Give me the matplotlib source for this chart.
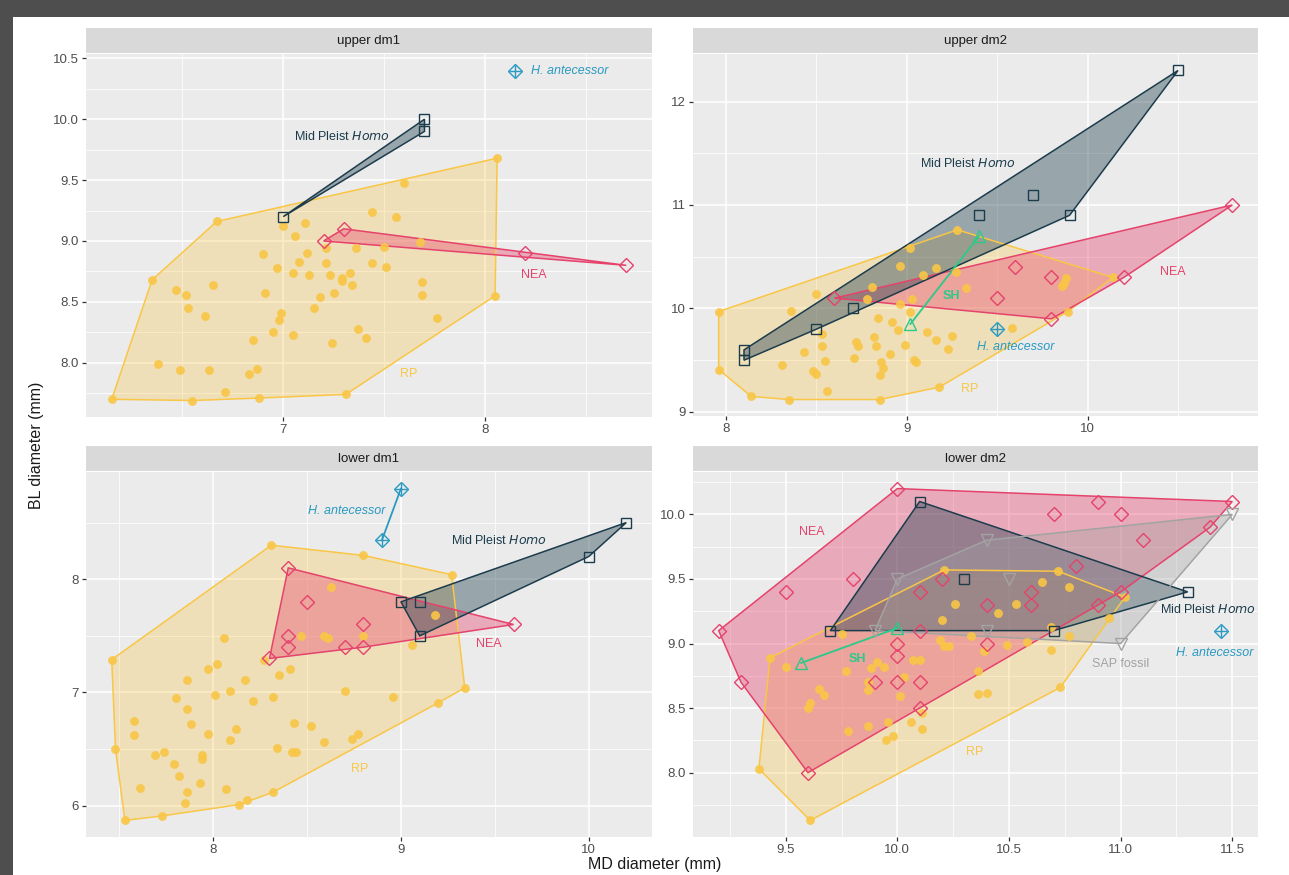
import numpy as np
import matplotlib
matplotlib.use("Agg")
import matplotlib.pyplot as plt
from matplotlib.patches import Polygon, Rectangle

FONT = ['Liberation Sans Narrow', 'Liberation Sans', 'DejaVu Sans']
plt.rcParams['font.family'] = FONT
plt.rcParams['mathtext.fontset'] = 'custom'
plt.rcParams['mathtext.rm'] = 'Liberation Sans Narrow'
plt.rcParams['mathtext.it'] = 'Liberation Sans Narrow:italic'

# ---------------------------------------------------------------------------
# data: MD / BL diameters (mm), one pair of lists per group
# ---------------------------------------------------------------------------
# upper dm1
ud1_rp_md = [6.15, 6.35, 6.67, 8.06, 8.05, 7.31, 6.88, 6.55, 7.60, 7.44, 7.56, 7.00, 7.11, 7.06,
             7.68, 7.21, 7.36, 7.50, 6.90, 7.12, 7.08, 7.21, 7.44, 7.51, 6.97, 7.05, 7.13, 7.23,
             7.29, 7.33, 7.29, 7.34, 7.69, 7.69, 6.65, 6.47, 6.52, 6.91, 7.25, 7.18, 6.53, 6.61,
             7.15, 6.99, 6.98, 6.95, 7.05, 6.85, 7.76, 7.37, 7.41, 7.24, 6.38, 6.49, 6.63, 6.83,
             6.87, 6.71]
ud1_rp_bl = [7.70, 8.68, 9.16, 9.68, 8.55, 7.74, 7.71, 7.69, 9.48, 9.24, 9.20, 9.12, 9.15, 9.04,
             8.99, 8.94, 8.94, 8.95, 8.89, 8.90, 8.83, 8.82, 8.82, 8.79, 8.78, 8.74, 8.72, 8.72,
             8.70, 8.74, 8.67, 8.64, 8.66, 8.56, 8.64, 8.60, 8.56, 8.57, 8.57, 8.54, 8.45, 8.38,
             8.45, 8.41, 8.35, 8.25, 8.23, 8.19, 8.37, 8.28, 8.20, 8.16, 7.99, 7.94, 7.94, 7.91,
             7.95, 7.76]
ud1_nea_md = [7.2, 7.3, 8.2, 8.7]
ud1_nea_bl = [9.0, 9.1, 8.9, 8.8]
ud1_mph_md = [7.7, 7.7, 7.0]
ud1_mph_bl = [10.0, 9.9, 9.2]
ud1_ha_md = [8.15]
ud1_ha_bl = [10.4]

# upper dm2
ud2_rp_md = [7.96, 7.96, 8.14, 8.35, 8.85, 9.18, 9.89, 10.14, 9.28, 8.50, 8.36, 8.31, 8.43, 8.48,
             8.50, 8.53, 8.53, 8.55, 8.56, 8.71, 8.72, 8.73, 8.81, 8.78, 8.84, 8.82, 8.83, 8.86,
             8.87, 8.85, 8.91, 8.92, 8.95, 8.96, 8.96, 9.02, 8.99, 9.02, 9.03, 9.04, 9.05, 9.09,
             9.16, 9.11, 9.16, 9.23, 9.25, 9.27, 9.33, 9.58, 9.87, 9.88, 9.86]
ud2_rp_bl = [9.97, 9.41, 9.15, 9.12, 9.12, 9.24, 9.97, 10.30, 10.76, 10.14, 9.98, 9.45, 9.58, 9.40,
             9.37, 9.75, 9.64, 9.49, 9.20, 9.52, 9.68, 9.64, 10.21, 10.09, 9.91, 9.72, 9.64, 9.48,
             9.42, 9.36, 9.56, 9.87, 9.79, 10.41, 10.04, 10.58, 9.65, 9.97, 10.09, 9.50, 9.48, 10.32,
             10.39, 9.77, 9.70, 9.61, 9.73, 10.35, 10.20, 9.81, 10.25, 10.29, 10.22]
ud2_nea_md = [10.8, 10.2, 9.6, 9.8, 9.5, 9.8, 8.6]
ud2_nea_bl = [11.0, 10.3, 10.4, 10.3, 10.1, 9.9, 10.1]
ud2_mph_md = [10.5, 9.7, 9.4, 9.9, 8.7, 8.5, 8.1, 8.1]
ud2_mph_bl = [12.3, 11.1, 10.9, 10.9, 10.0, 9.8, 9.6, 9.5]
ud2_sh_md = [9.4, 9.02]
ud2_sh_bl = [10.7, 9.85]
ud2_ha_md = [9.5]
ud2_ha_bl = [9.8]

# lower dm1
ld1_rp_md = [7.46, 8.31, 8.80, 9.27, 9.34, 9.20, 8.32, 8.14, 7.73, 7.53, 7.48, 8.63, 8.47, 8.59,
             8.61, 8.80, 9.06, 9.18, 8.06, 8.27, 7.97, 8.02, 8.35, 8.41, 8.17, 7.86, 7.80, 8.01,
             8.09, 8.21, 8.32, 8.70, 8.96, 7.86, 7.88, 7.58, 7.58, 7.97, 8.12, 8.09, 8.43, 8.52,
             8.59, 8.74, 8.77, 8.34, 8.42, 8.44, 7.69, 7.74, 7.94, 7.94, 7.79, 7.82, 7.93, 7.61,
             7.86, 8.07, 7.85, 8.18]
ld1_rp_bl = [7.29, 8.30, 8.21, 8.04, 7.04, 6.91, 6.12, 6.01, 5.91, 5.87, 6.50, 7.93, 7.50, 7.50,
             7.48, 7.50, 7.42, 7.68, 7.48, 7.29, 7.21, 7.25, 7.15, 7.21, 7.11, 7.11, 6.95, 6.98,
             7.01, 6.92, 6.96, 7.01, 6.96, 6.85, 6.72, 6.75, 6.62, 6.63, 6.68, 6.58, 6.73, 6.70,
             6.56, 6.59, 6.63, 6.51, 6.47, 6.47, 6.45, 6.47, 6.45, 6.41, 6.37, 6.26, 6.20, 6.16,
             6.12, 6.15, 6.02, 6.05]
ld1_nea_md = [8.4, 8.5, 8.4, 8.4, 8.8, 8.7, 8.8, 8.3, 9.6]
ld1_nea_bl = [8.1, 7.8, 7.5, 7.4, 7.6, 7.4, 7.4, 7.3, 7.6]
ld1_mph_md = [10.2, 10.0, 9.0, 9.1, 9.1]
ld1_mph_bl = [8.5, 8.2, 7.8, 7.8, 7.5]
ld1_ha_md = [9.0, 8.9]
ld1_ha_bl = [8.8, 8.35]

# lower dm2
ld2_rp_md = [9.38, 9.43, 10.21, 10.72, 11.02, 10.73, 9.61, 9.50, 9.77, 9.75, 9.88, 9.91, 9.94,
             9.87, 9.87, 9.65, 9.67, 9.61, 9.60, 9.78, 9.87, 9.96, 10.06, 9.95, 9.98, 10.11,
             10.11, 10.07, 10.10, 10.03, 10.01, 10.20, 10.26, 10.45, 10.53, 10.19, 10.21, 10.23,
             10.33, 10.39, 10.49, 10.58, 10.65, 10.77, 10.69, 10.77, 10.69, 10.95, 10.36, 10.36,
             10.40]
ld2_rp_bl = [8.03, 8.89, 9.57, 9.56, 9.36, 8.66, 7.63, 8.82, 8.79, 9.07, 8.81, 8.86, 8.82,
             8.70, 8.64, 8.65, 8.60, 8.54, 8.50, 8.32, 8.36, 8.39, 8.39, 8.25, 8.28, 8.34,
             8.46, 8.87, 8.87, 8.74, 8.59, 9.18, 9.31, 9.24, 9.31, 9.03, 8.98, 8.98,
             9.06, 8.94, 8.99, 9.01, 9.48, 9.44, 9.13, 9.06, 8.95, 9.20, 8.79, 8.61,
             8.62]
ld2_nea_md = [10.0, 11.5, 10.9, 10.7, 11.0, 11.1, 11.4, 10.8, 9.8, 9.5, 10.1, 10.6, 11.0, 10.4,
              10.6, 10.9, 10.2, 9.2, 10.1, 10.0, 10.4, 10.0, 9.3, 9.9, 10.0, 10.1, 10.1, 9.6]
ld2_nea_bl = [10.2, 10.1, 10.1, 10.0, 10.0, 9.8, 9.9, 9.6, 9.5, 9.4, 9.4, 9.4, 9.4, 9.3,
              9.3, 9.3, 9.5, 9.1, 9.1, 9.0, 9.0, 8.9, 8.7, 8.7, 8.7, 8.7, 8.5, 8.0]
ld2_mph_md = [10.1, 10.3, 11.3, 9.7, 10.7]
ld2_mph_bl = [10.1, 9.5, 9.4, 9.1, 9.1]
ld2_sap_md = [11.5, 10.4, 10.0, 10.5, 11.0, 9.9, 10.4]
ld2_sap_bl = [10.0, 9.8, 9.5, 9.5, 9.0, 9.1, 9.1]
ld2_sh_md = [9.57, 10.0]
ld2_sh_bl = [8.85, 9.12]
ld2_ha_md = [11.45]
ld2_ha_bl = [9.1]

# ---------------------------------------------------------------------------
# styles
# ---------------------------------------------------------------------------
STYLE = {
    'RP':  dict(color='#F9C646', marker='o', ms=6.4, filled=True, alpha=0.30),
    'NEA': dict(color='#E5426C', marker='D', ms=6.8, filled=False, alpha=0.38),
    'MPH': dict(color='#1C3C4C', marker='s', ms=7.6, filled=False, alpha=0.40),
    'SAP': dict(color='#A3A3A3', marker='v', ms=9.0, filled=False, alpha=0.35),
    'SH':  dict(color='#2BC98A', marker='^', ms=9.0, filled=False, alpha=0.30),
    'HA':  dict(color='#2A9AC2', marker='D', ms=6.8, filled=False, alpha=0.30),
}


def convex_hull(xs, ys):
    pts = sorted(set(zip(xs, ys)))
    if len(pts) < 3:
        return pts

    def cross(o, a, b):
        return (a[0] - o[0]) * (b[1] - o[1]) - (a[1] - o[1]) * (b[0] - o[0])
    lower, upper = [], []
    for p in pts:
        while len(lower) >= 2 and cross(lower[-2], lower[-1], p) <= 0:
            lower.pop()
        lower.append(p)
    for p in reversed(pts):
        while len(upper) >= 2 and cross(upper[-2], upper[-1], p) <= 0:
            upper.pop()
        upper.append(p)
    return lower[:-1] + upper[:-1]


W, H = 1289, 875
fig = plt.figure(figsize=(W / 100, H / 100), dpi=100, facecolor='#4E4E4E')
fig.patches.append(Rectangle((13 / W, 0), 1, 1 - 17 / H, transform=fig.transFigure,
                             facecolor='white', edgecolor='none', zorder=-10))


def px_axes(x0, y0, x1, y1):
    return fig.add_axes([x0 / W, 1 - y1 / H, (x1 - x0) / W, (y1 - y0) / H])


def draw_panel(box, title, groups, labels, xmaj, ymaj, xfmt, yfmt):
    x0, y0, x1, y1 = box
    strip = px_axes(x0, y0 - 26, x1, y0 - 1)
    strip.set_facecolor('#D9D9D9')
    strip.set_xticks([])
    strip.set_yticks([])
    for s in strip.spines.values():
        s.set_visible(False)
    strip.text(0.5, 0.48, title, ha='center', va='center', fontsize=9.5, color='#1A1A1A')

    ax = px_axes(x0, y0, x1, y1)
    ax.set_facecolor('#EBEBEB')
    for s in ax.spines.values():
        s.set_visible(False)

    # hulls first
    for key, xs, ys in groups:
        st = STYLE[key]
        hull = convex_hull(xs, ys)
        if len(hull) >= 3:
            ax.add_patch(Polygon(hull, closed=True, facecolor=st['color'], alpha=st['alpha'],
                                 edgecolor='none', zorder=2))
            ax.add_patch(Polygon(hull, closed=True, facecolor='none', edgecolor=st['color'],
                                 lw=1.1, zorder=3))
        elif len(hull) == 2:
            ax.plot([hull[0][0], hull[1][0]], [hull[0][1], hull[1][1]], color=st['color'],
                    lw=1.3, zorder=3)
    # then points
    for key, xs, ys in groups:
        st = STYLE[key]
        if st['filled']:
            ax.plot(xs, ys, ls='none', marker=st['marker'], ms=st['ms'], color=st['color'],
                    mec='none', alpha=0.9, zorder=4)
        else:
            ax.plot(xs, ys, ls='none', marker=st['marker'], ms=st['ms'], mfc='none',
                    mec=st['color'], mew=1.0, zorder=5)
        if key == 'HA':
            ax.plot(xs, ys, ls='none', marker='+', ms=st['ms'] * 1.35, mec=st['color'],
                    mew=1.0, zorder=5)

    for txt, x, y, key, kw in labels:
        ax.text(x, y, txt, ha='center', va='center', fontsize=9, color=STYLE[key]['color'],
                zorder=6, **kw)

    ax.set_xticks(xmaj)
    ax.set_yticks(ymaj)
    ax.set_xticks([(a + b) / 2 for a, b in zip(xmaj[:-1], xmaj[1:])] +
                  [xmaj[0] - (xmaj[1] - xmaj[0]) / 2, xmaj[-1] + (xmaj[1] - xmaj[0]) / 2],
                  minor=True)
    ax.set_yticks([(a + b) / 2 for a, b in zip(ymaj[:-1], ymaj[1:])] +
                  [ymaj[0] - (ymaj[1] - ymaj[0]) / 2, ymaj[-1] + (ymaj[1] - ymaj[0]) / 2],
                  minor=True)
    ax.set_xticklabels([xfmt.format(v) for v in xmaj])
    ax.set_yticklabels([yfmt.format(v) for v in ymaj])

    # ggplot-like 5% expansion of the data range (set after ticks, which widen limits)
    all_x = np.concatenate([g[1] for g in groups])
    all_y = np.concatenate([g[2] for g in groups])
    dx = (all_x.max() - all_x.min()) * 0.05
    dy = (all_y.max() - all_y.min()) * 0.05
    ax.set_xlim(all_x.min() - dx, all_x.max() + dx)
    ax.set_ylim(all_y.min() - dy, all_y.max() + dy)

    ax.grid(which='major', color='white', lw=1.1)
    ax.grid(which='minor', color='white', lw=0.55)
    ax.set_axisbelow(True)
    ax.tick_params(which='major', length=3, width=0.9, color='#333333', labelsize=9.5,
                   labelcolor='#4D4D4D', pad=2)
    ax.tick_params(which='minor', length=0)
    return ax


IT = dict(style='italic')
BOLD = dict(weight='bold')
MPH_LABEL = 'Mid Pleist $\\it{Homo}$'

draw_panel((86, 54, 652, 417), 'upper dm1',
           [('RP', ud1_rp_md, ud1_rp_bl), ('NEA', ud1_nea_md, ud1_nea_bl),
            ('MPH', ud1_mph_md, ud1_mph_bl), ('HA', ud1_ha_md, ud1_ha_bl)],
           [(MPH_LABEL, 7.29, 9.86, 'MPH', {}), ('NEA', 8.24, 8.72, 'NEA', {}),
            ('RP', 7.62, 7.91, 'RP', {}), ('H. antecessor', 8.42, 10.4, 'HA', IT)],
           [7, 8], [8.0, 8.5, 9.0, 9.5, 10.0, 10.5], '{:.0f}', '{:.1f}')

draw_panel((693, 54, 1258, 416), 'upper dm2',
           [('RP', ud2_rp_md, ud2_rp_bl), ('NEA', ud2_nea_md, ud2_nea_bl),
            ('MPH', ud2_mph_md, ud2_mph_bl), ('SH', ud2_sh_md, ud2_sh_bl),
            ('HA', ud2_ha_md, ud2_ha_bl)],
           [(MPH_LABEL, 9.34, 11.4, 'MPH', {}), ('NEA', 10.47, 10.35, 'NEA', {}),
            ('RP', 9.35, 9.22, 'RP', {}), ('SH', 9.245, 10.125, 'SH', BOLD),
            ('H. antecessor', 9.60, 9.63, 'HA', IT)],
           [8, 9, 10], [9, 10, 11, 12], '{:.0f}', '{:.0f}')

draw_panel((86, 472, 652, 837), 'lower dm1',
           [('RP', ld1_rp_md, ld1_rp_bl), ('NEA', ld1_nea_md, ld1_nea_bl),
            ('MPH', ld1_mph_md, ld1_mph_bl), ('HA', ld1_ha_md, ld1_ha_bl)],
           [('H. antecessor', 8.71, 8.60, 'HA', IT), (MPH_LABEL, 9.52, 8.34, 'MPH', {}),
            ('NEA', 9.47, 7.43, 'NEA', {}), ('RP', 8.78, 6.32, 'RP', {})],
           [8, 9, 10], [6, 7, 8], '{:.0f}', '{:.0f}')

draw_panel((693, 472, 1258, 837), 'lower dm2',
           [('RP', ld2_rp_md, ld2_rp_bl), ('NEA', ld2_nea_md, ld2_nea_bl),
            ('MPH', ld2_mph_md, ld2_mph_bl), ('SAP', ld2_sap_md, ld2_sap_bl),
            ('SH', ld2_sh_md, ld2_sh_bl), ('HA', ld2_ha_md, ld2_ha_bl)],
           [('NEA', 9.615, 9.86, 'NEA', {}), (MPH_LABEL, 11.39, 9.26, 'MPH', {}),
            ('SAP fossil', 11.0, 8.84, 'SAP', {}), ('SH', 9.82, 8.88, 'SH', BOLD),
            ('H. antecessor', 11.42, 8.93, 'HA', IT), ('RP', 10.345, 8.16, 'RP', {})],
           [9.5, 10.0, 10.5, 11.0, 11.5], [8.0, 8.5, 9.0, 9.5, 10.0], '{:.1f}', '{:.1f}')

fig.text(37 / W, 1 - 445 / H, 'BL diameter (mm)', rotation=90, ha='center', va='center',
         fontsize=11.5, color='#1A1A1A')
fig.text(655 / W, 1 - 864 / H, 'MD diameter (mm)', ha='center', va='center',
         fontsize=11.5, color='#1A1A1A')

fig.savefig('out.png', dpi=100, facecolor=fig.get_facecolor())
